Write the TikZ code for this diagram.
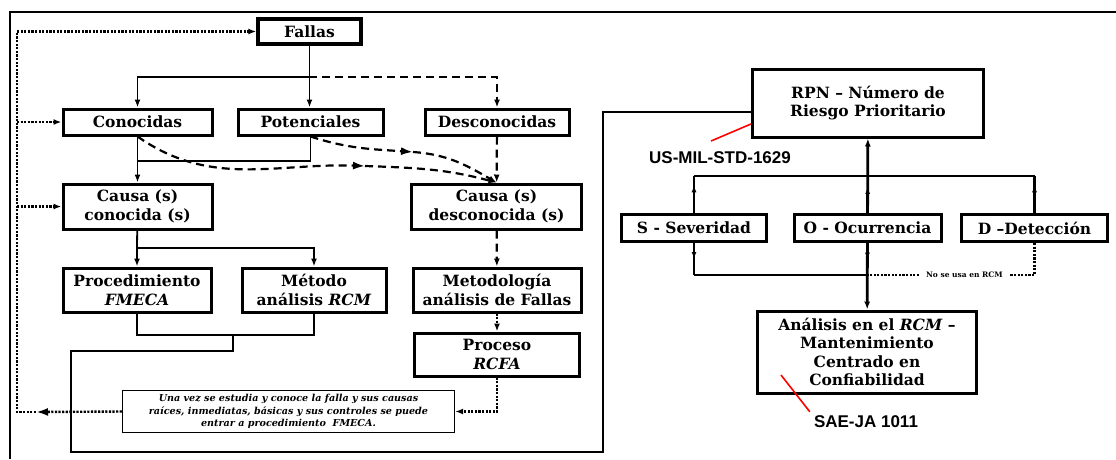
\documentclass[tikz,border=0pt]{standalone}
\usepackage{fontspec}
\setmainfont{DejaVu Serif}
\newfontfamily\arialb{Liberation Sans}
\usetikzlibrary{arrows.meta,decorations.markings}

\tikzset{
  caja/.style={draw,line width=3pt,align=center,inner sep=1pt,
    font=\fontsize{15.5}{18.5}\selectfont\bfseries},
  nota/.style={draw,line width=1.3pt,align=center,inner sep=1pt,
    font=\fontsize{9.6}{12.6}\selectfont\bfseries\itshape},
  norma/.style={font=\arialb\bfseries\fontsize{17}{20}\selectfont},
  guion/.style={dash pattern=on 8pt off 5pt,line width=2.2pt},
  grande/.style={-{Latex[length=12pt,width=8pt]}},
  punteado/.style={dash pattern=on 2.2pt off 1.4pt,line width=2.4pt},
  grueso/.style={line width=2.8pt},
  rojo/.style={red,line width=1.6pt},
  midarr/.style={postaction={decorate},decoration={markings,
    mark=at position #1 with {\arrow{Latex[length=7pt,width=5pt]}}}},
  midarr/.default=0.5
}

\begin{document}
\begin{tikzpicture}[x=1pt,y=-1pt,line width=1.8pt,>={Latex[length=8pt,width=6pt]}]
\useasboundingbox (0,0) rectangle (1116,459);
\draw[line width=2.8pt] (1116,12) -- (10,12) -- (10,459);
% lado izquierdo: tipos de falla
\node[caja,line width=3.4pt,minimum width=103pt,minimum height=25pt] (fallas) at (309.5,31.5) {Fallas};
\node[caja,minimum width=149pt,minimum height=26pt] (conoc) at (137.5,122) {Conocidas};
\node[caja,minimum width=145pt,minimum height=26pt] (potenc) at (310.5,122) {Potenciales};
\node[caja,minimum width=144pt,minimum height=26pt] (desconoc) at (497,122) {Desconocidas};
\node[caja,minimum width=149pt,minimum height=45pt] (causac) at (137.5,206.5) {Causa (s)\\conocida (s)};
\node[caja,minimum width=170pt,minimum height=45pt] (causad) at (496.5,206.5) {Causa (s)\\desconocida (s)};
\node[caja,minimum width=148pt,minimum height=44pt] (fmeca) at (137,290) {Procedimiento\\\textit{FMECA}};
\node[caja,minimum width=144pt,minimum height=44pt] (rcm) at (314,290) {Método\\análisis \textit{RCM}};
\node[caja,minimum width=168pt,minimum height=44pt] (metod) at (497,290) {Metodología\\análisis de Fallas};
\node[caja,minimum width=165pt,minimum height=43pt] (rcfa) at (497,354.5) {Proceso\\\textit{RCFA}};
\node[nota,minimum width=332pt,minimum height=42pt] (texto) at (288.5,411.5) {Una vez se estudia y conoce la falla y sus causas\\raíces, inmediatas, básicas y sus controles se puede\\entrar a procedimiento~~FMECA.};
% lado derecho: RPN y RCM
\node[caja,minimum width=231pt,minimum height=68pt] (rpn) at (868,103) {RPN – Número de\\Riesgo Prioritario};
\node[caja,minimum width=145pt,minimum height=27pt] (sev) at (694,228) {S - Severidad};
\node[caja,minimum width=147pt,minimum height=27pt] (ocur) at (867.5,228) {O - Ocurrencia};
\node[caja,minimum width=146pt,minimum height=27pt] (det) at (1034.5,228) {D –Detección};
\node[caja,minimum width=219pt,minimum height=82pt] (anal) at (867,352) {Análisis en el \textit{RCM} –\\Mantenimiento\\Centrado en\\Confiabilidad};
\node[norma] (mil) at (720,158) {US-MIL-STD-1629};
\node[norma] (sae) at (866,422) {SAE-JA 1011};
\coordinate (f1) at (309,77);
\coordinate (m1) at (365,166);
\coordinate (m2) at (413,152);
\coordinate (c1) at (137,248);
\coordinate (b1) at (233,335);
\coordinate (l0) at (17,412);
\coordinate (l1) at (17,31.5);
\draw[->] (fallas) -- (fallas |- potenc.north);
\draw[->] (f1) -| (conoc);
\draw[guion,->] (f1) -| (desconoc);
\draw[->] (conoc) -- (causac);
\draw (potenc.south) |- (conoc.south |- 0,161);
\draw[guion,grande] (conoc.south) to[out=-35,in=178] (m1);
\draw[guion,->] (m1) to[out=-2,in=165] (causad.north);
\draw[guion,grande] (potenc.south) to[out=-18,in=176] (m2);
\draw[guion,->] (m2) to[out=-4,in=150] (causad.north);
\draw[guion,->] (desconoc) -- (causad);
\draw (causac) -- (c1);
\draw[->] (c1) -- (fmeca);
\draw[->] (c1) -| (rcm);
\draw[guion,->] (causad) -- (metod);
\draw[punteado,->] (metod) -- (rcfa);
\draw[punteado,->] (rcfa.south) |- (texto.east);
\draw[punteado,grande] (texto.west) -- (36,412);
\draw[punteado] (36,412) -- (l0) -- (l1);
\draw[punteado,->] (l1) -- (fallas);
\draw[punteado,->] (l1 |- conoc) -- (conoc);
\draw[punteado,->] (l1 |- causac) -- (causac);
\draw (fmeca.south) |- (b1) -| (rcm.south);
\draw (b1) -- (233,351) -- (71,351) -- (71,452) -- (603,452) -- (603,112) -- (rpn.west |- 0,112);
\draw[midarr=0.75] (sev.north) -- (sev.north |- 0,176);
\draw[grueso,midarr=0.75] (det.north) -- (det.north |- 0,176);
\draw (sev.north |- 0,176) -- (det.north |- 0,176);
\draw[grueso,->,midarr=0.35] (ocur) -- (rpn);
\draw[midarr] (sev.south) -- (sev.south |- 0,275);
\draw (sev.south |- 0,275) -- (ocur.south |- 0,275);
\draw[grueso,->,midarr=0.25] (ocur) -- (anal);
\draw[punteado] (det.south) |- (ocur.south |- 0,275)
  node[pos=0.71,fill=white,inner xsep=6pt,font=\fontsize{7.5}{8}\selectfont\bfseries] {No se usa en RCM};
\draw[rojo] (711,141) -- (rpn.west |- 0,124);
\draw[rojo] (sae.north west) -- (781,375);
\end{tikzpicture}
\end{document}
